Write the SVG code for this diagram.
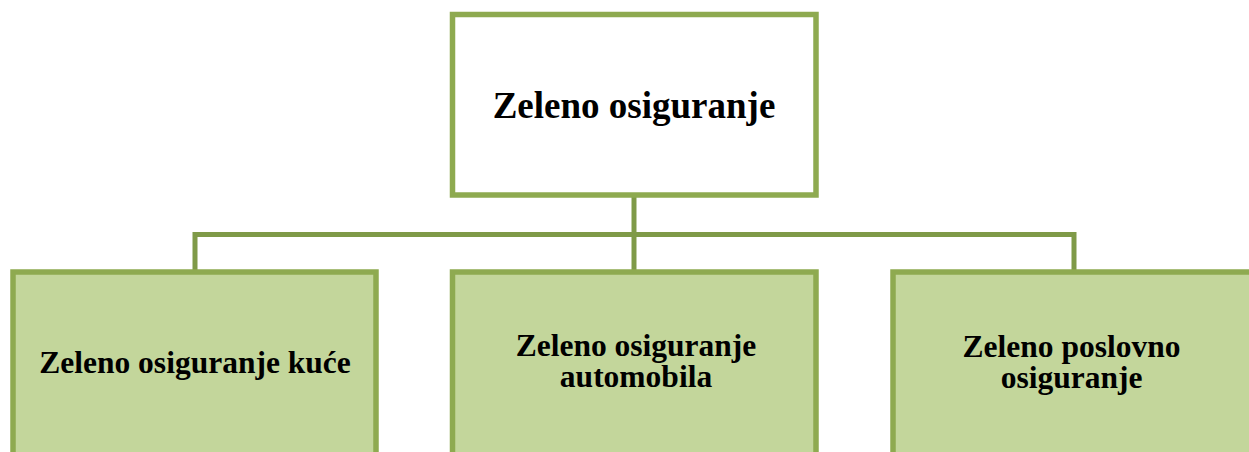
<svg xmlns="http://www.w3.org/2000/svg" width="1249" height="452" viewBox="0 0 1249 452">
<style>
.box{stroke:#8eaa50;stroke-width:5.5}
.top{fill:#ffffff}
.child{fill:#c3d69b}
.conn{fill:none;stroke:#7f9a48;stroke-width:5}
text{font-family:"Liberation Serif","Times New Roman",serif;font-weight:bold;fill:#000;text-anchor:middle}
.t1{font-size:37px}
.t2{font-size:31.5px}
</style>
<rect width="1249" height="452" fill="#ffffff"/>
<g id="connectors">
<path class="conn" d="M634 197 V270"/>
<path class="conn" d="M195 270 V234.5 H1074 V270"/>
</g>
<g id="root">
<rect class="box top" x="452.5" y="14.5" width="363.5" height="180.5"/>
<text class="t1" x="634" y="118">Zeleno osiguranje</text>
</g>
<g id="kuce">
<rect class="box child" x="13" y="272" width="363" height="200"/>
<text class="t2" x="195" y="373">Zeleno osiguranje kuće</text>
</g>
<g id="automobila">
<rect class="box child" x="452.5" y="272" width="363.5" height="200"/>
<text class="t2" x="636" y="356">Zeleno osiguranje</text>
<text class="t2" x="636" y="387">automobila</text>
</g>
<g id="poslovno">
<rect class="box child" x="893" y="272" width="363" height="200"/>
<text class="t2" x="1071.5" y="357">Zeleno poslovno</text>
<text class="t2" x="1071.5" y="388">osiguranje</text>
</g>
</svg>
